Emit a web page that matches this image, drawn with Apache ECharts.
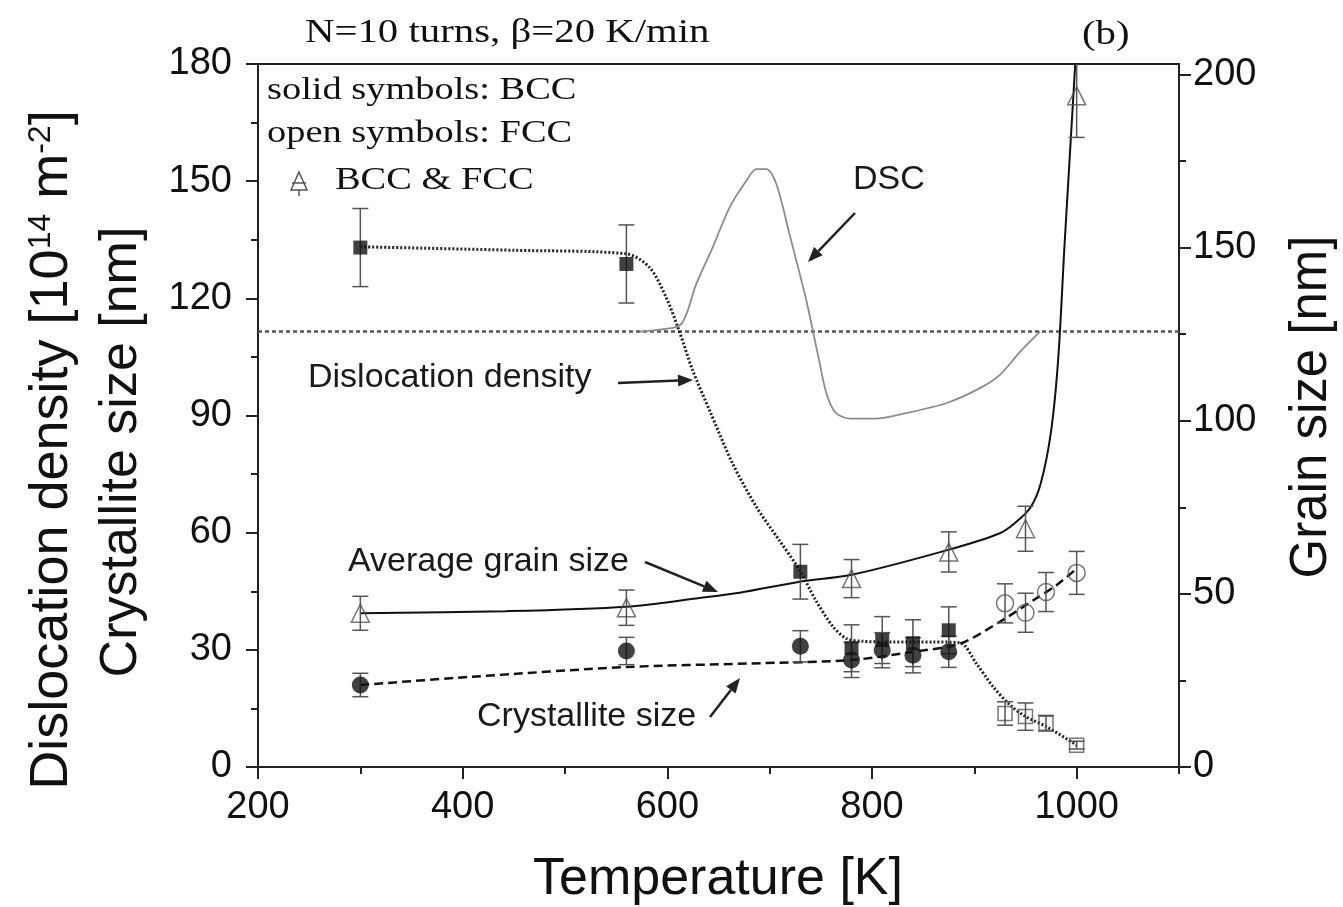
<!DOCTYPE html>
<html>
<head>
<meta charset="utf-8">
<script src="https://cdn.jsdelivr.net/npm/echarts@6/dist/echarts.min.js"></script>
<style>html,body{margin:0;background:#fff}#main{width:1343px;height:907px}</style>
</head>
<body>
<div id="main"></div>
<script>
// temperature [K] of the measured samples
var ddBccT = [300, 560, 730, 780, 810, 840, 875];
var ddBccV = [133.0, 128.8, 50.0, 30.4, 32.5, 31.7, 35.0];
var ddBccE = [10, 10, 7, 6, 6, 6, 6];

var csBccT = [300, 560, 730, 780, 810, 840, 875];
var csBccV = [21.0, 29.7, 30.9, 27.4, 29.9, 28.6, 29.5];
var csBccE = [3, 3.5, 4, 4.5, 4.5, 4.5, 4];

var ddFccT = [930, 950, 970, 1000];
var ddFccV = [13.7, 12.9, 11.2, 5.6];
var ddFccE = [3, 3.5, 2, 1];

var csFccT = [930, 950, 970, 1000];
var csFccV = [41.9, 39.5, 44.8, 49.7];
var csFccE = [5, 5, 5, 5.5];

// grain size (right axis), BCC & FCC
var grainT = [300, 560, 780, 875, 950, 1000];
var grainV = [44.4, 46.0, 54.4, 62.1, 68.8, 193.8];
var grainE = [4.9, 5.1, 5.5, 5.8, 6.5, 12];

// fitted curves
var ddFitT = [300, 450, 560, 582.6, 598.9, 611.5, 624.7, 641.3, 663.8, 687, 709.5, 729.3, 745, 762, 775, 790, 820, 860, 886, 902, 918.5, 934.8, 949.5, 970.7, 1000];
var ddFitV = [133.2, 132.3, 131.4, 127.9, 120.2, 111.7, 101.6, 91.3, 77.7, 66.6, 58.0, 50.4, 42.7, 35.9, 32.9, 32.2, 32.0, 32.0, 31.8, 26.5, 20.5, 15.9, 13.0, 10.3, 5.6];

var csFitT = [300, 409, 560, 680, 780, 840, 886, 925, 957.6, 980, 1001];
var csFitV = [21.0, 23.1, 25.6, 26.5, 27.4, 29.5, 31.6, 37.2, 42.7, 46.5, 51.0];

var grainFitT = [300, 442, 560, 631.5, 670.6, 729.3, 780, 874.5, 925, 940, 955, 965, 975, 982, 988, 993, 999];
var grainFitV = [44.4, 45.0, 46.3, 48.8, 50.3, 53.5, 55.5, 62.7, 67.5, 70.5, 75, 82, 97, 118, 150, 175, 205];

// DSC trace (arbitrary units, plotted on the left scale)
var dscT = [572.8, 592.4, 613.6, 628.3, 644.2, 660.9, 677.2, 687, 696.8, 706.6, 719.3, 735.9, 748, 756, 765, 779, 803, 833, 873, 905.5, 925, 944.6, 964.2];
var dscV = [111.5, 112.0, 113.4, 123.7, 133.0, 143.3, 150.1, 153.1, 153.1, 149.2, 136.5, 119.4, 104.5, 95.2, 90.6, 89.2, 89.2, 90.6, 93.2, 97.0, 100.4, 106.3, 111.5];
var baseT = [200, 1100];
var baseV = [111.5, 111.5];

// tick positions
var xMajor = [200, 400, 600, 800, 1000];
var xMinor = [300, 500, 700, 900, 1100];
var gMajor = [0, 50, 100, 150, 200];
var gMinor = [25, 75, 125, 175];

var SANS = 'Liberation Sans, Arial, sans-serif';
var SERIF = 'Liberation Serif, Times New Roman, serif';

function pairs(t, v) {
	return t.map(function (x, i) { return [x, v[i]]; });
}
function bars(t, v, e) {
	return t.map(function (x, i) { return [x, v[i] - e[i], v[i] + e[i]]; });
}
function plain(v) {
	return String(v);
}

function renderErr(params, api) {
	var x = api.value(0);
	var p1 = api.coord([x, api.value(1)]);
	var p2 = api.coord([x, api.value(2)]);
	var w = 8;
	var st = {stroke: '#555', lineWidth: 1.5};
	return {type: 'group', children: [
		{type: 'line', shape: {x1: p1[0], y1: p1[1], x2: p2[0], y2: p2[1]}, style: st},
		{type: 'line', shape: {x1: p1[0] - w, y1: p1[1], x2: p1[0] + w, y2: p1[1]}, style: st},
		{type: 'line', shape: {x1: p2[0] - w, y1: p2[1], x2: p2[0] + w, y2: p2[1]}, style: st}
	]};
}

function errSeries(data, yIdx) {
	return {type: 'custom', yAxisIndex: yIdx || 0, renderItem: renderErr, clip: true,
		encode: {x: 0, y: [1, 2]}, data: data, z: 3, silent: true};
}

function arrow(x1, y1, x2, y2) {
	var a = Math.atan2(y2 - y1, x2 - x1), L = 15, W = 6;
	var bx = x2 - L * Math.cos(a), by = y2 - L * Math.sin(a);
	return [
		{type: 'line', shape: {x1: x1, y1: y1, x2: bx, y2: by}, style: {stroke: '#222', lineWidth: 2.5}},
		{type: 'polygon', shape: {points: [[x2, y2],
			[bx + W * Math.sin(a), by - W * Math.cos(a)],
			[bx - W * Math.sin(a), by + W * Math.cos(a)]]}, style: {fill: '#222'}}
	];
}

function label(txt, x, y, size) {
	return {type: 'text', x: x, y: y, style: {text: txt, fontFamily: SANS, fontSize: size || 34,
		fill: '#1a1a1a', align: 'left', verticalAlign: 'middle'}};
}
function serif(txt, x, y, size) {
	return {type: 'text', x: x, y: y, scaleX: 1.2, style: {text: txt, fontFamily: SERIF, fontSize: size || 32,
		fill: '#111', align: 'left', verticalAlign: 'middle'}};
}

var chart = echarts.init(document.getElementById('main'));

var graphics = [
	serif('N=10 turns, \u03b2=20 K/min', 305, 33, 34),
	serif('(b)', 1082, 35, 34),
	serif('solid symbols: BCC', 267, 91),
	serif('open symbols: FCC', 267, 134),
	serif('BCC & FCC', 335, 181),
	{type: 'polygon', shape: {points: [[299, 172], [291, 190], [307, 190]]}, style: {fill: 'none', stroke: '#555', lineWidth: 1.5}},
	{type: 'line', shape: {x1: 292, y1: 183, x2: 306, y2: 183}, style: {stroke: '#555', lineWidth: 1.5}},
	{type: 'line', shape: {x1: 299, y1: 190, x2: 299, y2: 196}, style: {stroke: '#555', lineWidth: 1.5}},
	label('DSC', 853, 180),
	label('Dislocation density', 308, 378),
	label('Average grain size', 348, 562),
	label('Crystallite size', 477, 717),
	{type: 'text', x: 718, y: 880, style: {text: 'Temperature [K]', fontFamily: SANS, fontSize: 52,
		fill: '#111', align: 'center', verticalAlign: 'middle'}},
	{type: 'text', x: 52, y: 450, rotation: Math.PI / 2, style: {
		text: '{n|Dislocation density [10}{s|14}{n| m}{s|-2}{n|]}',
		align: 'center', verticalAlign: 'middle', fill: '#111',
		rich: {n: {fontFamily: SANS, fontSize: 54, verticalAlign: 'bottom', fill: '#111'},
			s: {fontFamily: SANS, fontSize: 32, verticalAlign: 'top', fill: '#111'}}}},
	{type: 'text', x: 122, y: 452, rotation: Math.PI / 2, style: {text: 'Crystallite size [nm]',
		fontFamily: SANS, fontSize: 52, fill: '#111', align: 'center', verticalAlign: 'middle'}},
	{type: 'text', x: 1312, y: 407, rotation: Math.PI / 2, style: {text: 'Grain size [nm]',
		fontFamily: SANS, fontSize: 51, fill: '#111', align: 'center', verticalAlign: 'middle'}}
];
graphics = graphics
	.concat(arrow(855, 213, 808, 262))
	.concat(arrow(618, 383, 693, 380))
	.concat(arrow(645, 562, 718, 592))
	.concat(arrow(710, 717, 740, 678));

var axisLine = {show: true, lineStyle: {color: '#222', width: 2}};
var tickStyle = {color: '#222', width: 2};
var labelFont = {fontFamily: SANS, fontSize: 38, color: '#111', formatter: plain};

var option = {
	backgroundColor: '#fff',
	animation: false,
	grid: {left: 258, right: 164, top: 64, bottom: 140, show: true, borderColor: '#222', borderWidth: 2},
	xAxis: [{
		type: 'value', min: 200, max: 1100, interval: 200, position: 'bottom',
		axisLine: axisLine,
		axisTick: {show: true, inside: false, length: 12, lineStyle: tickStyle, customValues: xMajor},
		splitLine: {show: false},
		axisLabel: Object.assign({margin: 22, customValues: xMajor}, labelFont)
	}, {
		type: 'value', min: 200, max: 1100, position: 'bottom',
		axisLine: {show: false},
		axisTick: {show: true, inside: false, length: 7, lineStyle: tickStyle, customValues: xMinor},
		splitLine: {show: false},
		axisLabel: {show: false}
	}],
	yAxis: [{
		type: 'value', min: 0, max: 180, interval: 30, position: 'left',
		axisLine: axisLine,
		axisTick: {show: true, inside: false, length: 12, lineStyle: tickStyle},
		minorTick: {show: true, splitNumber: 2, length: 7, lineStyle: tickStyle},
		splitLine: {show: false},
		axisLabel: Object.assign({margin: 26}, labelFont)
	}, {
		type: 'value', min: 0, max: 203, position: 'right',
		axisLine: axisLine,
		axisTick: {show: true, inside: false, length: 12, lineStyle: tickStyle, customValues: gMajor},
		splitLine: {show: false},
		axisLabel: Object.assign({margin: 14, customValues: gMajor}, labelFont)
	}, {
		type: 'value', min: 0, max: 203, position: 'right',
		axisLine: {show: false},
		axisTick: {show: true, inside: false, length: 7, lineStyle: tickStyle, customValues: gMinor},
		splitLine: {show: false},
		axisLabel: {show: false}
	}],
	graphic: graphics,
	series: [
		{type: 'line', data: pairs(baseT, baseV), symbol: 'none', z: 1,
			lineStyle: {color: '#555', width: 2.5, type: [4, 3]}},
		{type: 'line', data: pairs(dscT, dscV), symbol: 'none', smooth: 0.3, z: 1,
			lineStyle: {color: '#8c8c8c', width: 1.8}},
		{type: 'line', data: pairs(ddFitT, ddFitV), symbol: 'none', smooth: 0.3, z: 2,
			lineStyle: {color: '#222', width: 3, type: [2, 2]}},
		{type: 'line', data: pairs(csFitT, csFitV), symbol: 'none', smooth: 0.3, z: 2,
			lineStyle: {color: '#111', width: 2.5, type: [9, 5]}},
		{type: 'line', yAxisIndex: 1, data: pairs(grainFitT, grainFitV), symbol: 'none', smooth: 0.3, z: 2,
			lineStyle: {color: '#111', width: 2}},
		errSeries(bars(ddBccT, ddBccV, ddBccE)),
		errSeries(bars(csBccT, csBccV, csBccE)),
		errSeries(bars(ddFccT, ddFccV, ddFccE)),
		errSeries(bars(csFccT, csFccV, csFccE)),
		errSeries(bars(grainT, grainV, grainE), 1),
		{type: 'scatter', data: pairs(ddBccT, ddBccV), symbol: 'rect', symbolSize: 14, z: 5,
			itemStyle: {color: '#111'}},
		{type: 'scatter', data: pairs(csBccT, csBccV), symbol: 'circle', symbolSize: 17, z: 5,
			itemStyle: {color: '#111'}},
		{type: 'scatter', data: pairs(ddFccT, ddFccV), symbol: 'rect', symbolSize: 14, z: 5,
			itemStyle: {color: 'rgba(255,255,255,0)', borderColor: '#555', borderWidth: 1.5}},
		{type: 'scatter', data: pairs(csFccT, csFccV), symbol: 'circle', symbolSize: 17, z: 5,
			itemStyle: {color: 'rgba(255,255,255,0)', borderColor: '#555', borderWidth: 1.5}},
		{type: 'scatter', yAxisIndex: 1, data: pairs(grainT, grainV), symbol: 'triangle', symbolSize: 18, z: 5,
			itemStyle: {color: 'rgba(255,255,255,0)', borderColor: '#555', borderWidth: 1.5}}
	]
};
chart.setOption(option);

window.onresize = function () {
	chart.resize();
};
</script>
</body>
</html>
